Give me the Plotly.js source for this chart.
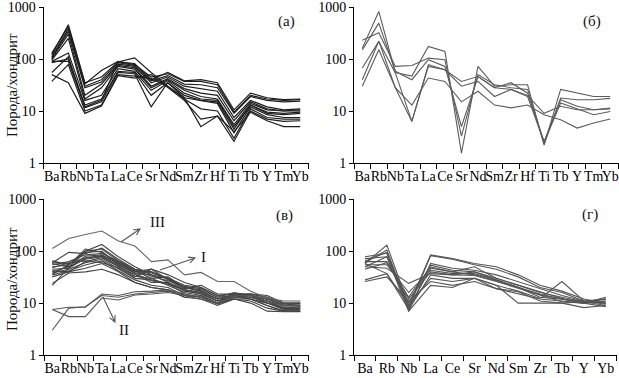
<!DOCTYPE html>
<html><head><meta charset="utf-8">
<script src="https://cdn.plot.ly/plotly-3.0.1.min.js"></script>
<style>html,body{margin:0;padding:0;background:#fff}#c{width:619px;height:378px}</style>
</head><body><div id="c"></div>
<script>
// Categories
var catsLong = ["Ba","Rb","Nb","Ta","La","Ce","Sr","Nd","Sm","Zr","Hf","Ti","Tb","Y","Tm","Yb"];
var catsShort = ["Ba","Rb","Nb","La","Ce","Sr","Nd","Sm","Zr","Tb","Y","Yb"];
var yTickVals = [1,10,100,1000];
var yTickText = ["1","10","100","1000"];

// Panel (a)
var seriesA = [
 [120,457,35,45,88,82,40,55,38,40,35,10.5,22,18,16.5,17],
 [130,420,33,60,90,78,45,52,37,37,32,9.5,20,17,16,16.5],
 [110,380,30,40,85,75,38,48,33,32,28,9,19,16,15,15.5],
 [105,340,28,36,80,72,35,45,30,27,24,7.5,16,12,10.5,11],
 [100,300,20,33,75,68,30,42,27,22,20,6.5,15,11,10,10.5],
 [95,250,17,28,72,64,28,40,25,19,17,5.5,14,10.5,10,10],
 [90,130,16,20,65,58,25,38,22,17,16,5,13,9.5,9,9.5],
 [85,100,13,17,58,55,20,35,20,16,15,4.5,13,9,8.5,9],
 [55,110,11.5,15,55,52,12,35,18,16,14,3.8,12,8.5,7.5,7.5],
 [37,78,10,13,50,47,42,30,17,11,10,3,11,7.5,7,7],
 [50,35,9,12.5,48,43,50,28,16,7,8,2.6,10,7,6.3,6.5],
 [90,90,12,16,88,105,55,30,18,5,8,4,9.5,6.5,5,5]
];
// Panel (б)
var seriesB = [
 [160,820,55,47,175,140,1.55,72,30,32,32,2.2,26,22,19,19],
 [230,320,72,75,104,97,3.3,50,32,28,26,2.3,17.8,16.5,16.5,17.5],
 [150,490,58,40,97,72,5,46,28,35,22,2.6,16.5,12.3,10.6,11],
 [67,218,54,6.3,78,62,37,46,28,26,20,9,12.3,10.6,10.6,11.4],
 [40,220,28,6.3,72,62,30,37,19,26,19,2.5,14.3,11,8.5,9.8],
 [30,150,28,13,43,37,15,24,13,11.5,13,8.5,6.8,4.7,5.9,7]
];
// Panel (в): group I
var seriesV1 = [
 [65,55,100,135,78,50,35,30,22,20,14,15,14,12,9,9],
 [60,95,90,115,70,45,40,28,20,18,13,14,14,11,9,10],
 [55,63,85,90,65,42,30,32,20,17,12,15,15,14,10,10],
 [50,54,110,95,60,40,45,28,18,15,11,14,13,11,8,8],
 [45,47,73,80,55,38,35,25,18,16,12,13,13,10,8,8.5],
 [42,40,63,75,50,35,25,25,17,15,11,14,12,10,7.5,7.5],
 [40,50,70,78,52,33,30,22,16,14,10,13,14,12,9,9],
 [38,45,60,70,46,30,28,24,15,13,10,13,12,9,7,7],
 [35,42,54,65,42,28,22,20,14,13,9.5,12,12,9,7,7],
 [32,40,47,58,40,25,20,18,13,12,9,12,11,8,7,7],
 [24,38,40,45,35,25,20,18,13,14,10,12,10,7,6.8,6.8],
 [22,48,80,85,58,40,40,30,19,22,15,15,15,13,10,10],
 [62,58,75,82,62,44,33,27,21,19,13,16,14,12,9.5,9.5],
 [48,60,65,60,48,32,45,35,25,20,14,15,14,10,8,8],
 [58,50,95,100,55,37,27,23,18,16,11,13,13,11,8,8],
 [36,55,100,110,65,45,38,30,20,17,12,14,15,13,9,9]
];
// Panel (в): group II
var seriesV2 = [
 [7.5,8.3,8.3,15,14,16.5,17,18,15,13,10,14,14,12,9,9],
 [7.5,5.5,5.5,12.5,11.5,14.3,15,16,14,12,10,13,13,11,8.5,8.5],
 [3,8,8.5,14,13,15,16,17,14,13,10,14,14,12,9,9]
];
// Panel (в): group III
var seriesV3 = [
 [113,175,210,245,157,126,63,68,35,39,26,26,17,12.5,11,11]
];
// Panel (г)
var seriesG = [
 [58,131,9,85,72,58,50,35,22,17,12,10],
 [60,105,8,82,70,55,45,32,20,16,11,9.5],
 [78,91,7,58,47,43,35,26,19,14,11,10],
 [72,78,10,54,43,40,30,22,16,13,10.6,9],
 [63,63,13,50,40,50,30,22,16.6,12.3,10,11],
 [55,55,16,43,37,37,28,20,14.3,12,10,12],
 [50,47,24,37,35,34,26,19,14.3,10.6,10,13],
 [58,37,7.5,35,30,30,22,17,12.3,26,11,12],
 [28,37,9,30,26,30,22,10,10,10,10.6,12],
 [26,32,11,26,22,26,19,16.6,11,10,8.2,9],
 [50,78,7,22,20,30,19,15,12,11,10,8.5],
 [65,95,8,47,40,35,27,20,15,12,10,11],
 [45,60,12,40,35,40,28,20,13,12,11,10]
];

var W = 619, H = 378;
var FONT = "'Liberation Serif', 'Times New Roman', serif";
var traces = [];
function add(series, cats, ax, color, width) {
  series.forEach(function (s) {
    traces.push({type: "scatter", mode: "lines", x: cats, y: s,
      xaxis: "x" + ax, yaxis: "y" + ax,
      line: {color: color, width: width}, hoverinfo: "skip", showlegend: false});
  });
}
add(seriesA, catsLong, "", "#1e1e1e", 1.2);
add(seriesB, catsLong, "2", "#5c5c5c", 1.1);
add(seriesV1, catsLong, "3", "#444", 1.1);
add(seriesV2, catsLong, "3", "#555", 1.1);
add(seriesV3, catsLong, "3", "#666", 1.1);
add(seriesG, catsShort, "4", "#555", 1.1);

function px(x) { return x / W; }
function py(y) { return 1 - y / H; }

function xa(cats, x0, x1, anchor) {
  return {domain: [px(x0), px(x1)], type: "category", categoryarray: cats, categoryorder: "array",
    range: [-0.5, cats.length - 0.5], tickmode: "linear", tick0: 0, dtick: 1,
    tickson: "boundaries", ticks: "outside", ticklen: 5,
    tickwidth: 1, tickcolor: "#000", showline: true, linecolor: "#000", linewidth: 1,
    showgrid: false, zeroline: false, tickangle: 0, anchor: anchor, ticklabeloverflow: "allow",
    tickfont: {family: FONT, size: 14, color: "#000"}, fixedrange: true};
}
function ya(y0, y1, anchor) {
  return {domain: [py(y1), py(y0)], type: "log", range: [0, 3], tickvals: yTickVals, ticktext: yTickText,
    ticks: "outside", ticklen: 4, tickwidth: 1, tickcolor: "#000", showline: true, linecolor: "#000",
    linewidth: 1, showgrid: false, zeroline: false, anchor: anchor, ticklabeloverflow: "allow",
    tickfont: {family: FONT, size: 14, color: "#000"}, fixedrange: true};
}

var ann = [];
function txt(t, x, y, size, angle) {
  ann.push({text: t, x: px(x), y: py(y), xref: "paper", yref: "paper", showarrow: false,
    font: {family: FONT, size: size, color: "#111"}, textangle: angle || 0,
    xanchor: "center", yanchor: "middle"});
}
txt("(a)", 286, 22, 15);
txt("(б)", 592, 22, 15);
txt("(в)", 284, 215, 15);
txt("(г)", 590, 214, 15);
txt("Порода/хондрит", 12, 85, 15, -90);
txt("Порода/хондрит", 12, 279, 15, -90);
txt("III", 157, 222, 15);
txt("I", 203, 257, 15);
txt("II", 124, 330, 15);

var shapes = [];
function arrow(x0, y0, x1, y1) {
  var dx = x1 - x0, dy = y1 - y0, L = Math.sqrt(dx * dx + dy * dy);
  var ux = dx / L, uy = dy / L, hl = 7, a = 0.45;
  var c = Math.cos(a), s = Math.sin(a);
  var h1x = x1 - hl * (ux * c - uy * s), h1y = y1 - hl * (uy * c + ux * s);
  var h2x = x1 - hl * (ux * c + uy * s), h2y = y1 - hl * (uy * c - ux * s);
  var P = function (x, y) { return px(x) + "," + py(y); };
  shapes.push({type: "path", xref: "paper", yref: "paper",
    path: "M" + P(x0, y0) + "L" + P(x1, y1) + "M" + P(h1x, h1y) + "L" + P(x1, y1) + "L" + P(h2x, h2y),
    line: {color: "#555", width: 1.1}});
}
arrow(121, 242, 140, 229);
arrow(160, 270, 195, 258);
arrow(103, 297, 115, 322);

var layout = {
  width: W, height: H, margin: {l: 0, r: 0, t: 0, b: 0}, paper_bgcolor: "#fff", plot_bgcolor: "rgba(0,0,0,0)",
  showlegend: false, font: {family: FONT, color: "#000"},
  xaxis: xa(catsLong, 43.5, 308.5, "y"), yaxis: ya(7, 163, "x"),
  xaxis2: xa(catsLong, 354, 618.5, "y2"), yaxis2: ya(7, 163, "x2"),
  xaxis3: xa(catsLong, 44, 308.5, "y3"), yaxis3: ya(199.3, 355, "x3"),
  xaxis4: xa(catsShort, 354, 616.7, "y4"), yaxis4: ya(199.3, 355, "x4"),
  annotations: ann, shapes: shapes
};
Plotly.newPlot("c", traces, layout, {displayModeBar: false, staticPlot: true});
</script></body></html>
